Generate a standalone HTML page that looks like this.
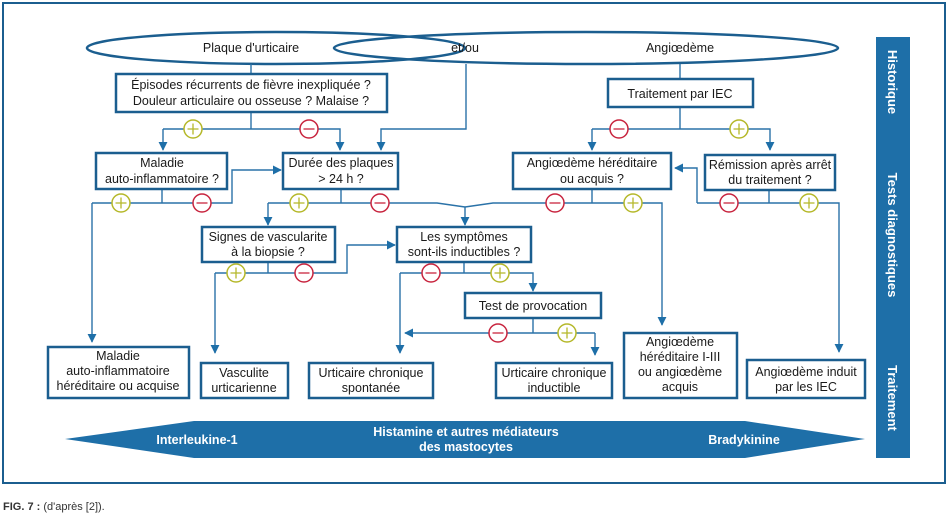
<!DOCTYPE html>
<html><head><meta charset="utf-8"><style>
body{margin:0;background:#fff;}
svg{display:block;font-family:"Liberation Sans",sans-serif;}
.b{fill:#fff;stroke:#1b5e8f;stroke-width:2.5}
.l{fill:none;stroke:#2a72a8;stroke-width:1.4}
.t{font-size:12.5px;fill:#1a1a1a;text-anchor:middle}
.p{fill:#fff;stroke:#b5b82a;stroke-width:1.5}
.m{fill:#fff;stroke:#c8253f;stroke-width:1.5}
.ps{stroke:#b5b82a;stroke-width:1.3}
.ms{stroke:#c8253f;stroke-width:1.3}
.w{font-size:12.5px;font-weight:bold;fill:#fff;text-anchor:middle}
.s{font-size:13px;font-weight:bold;fill:#fff;text-anchor:middle}
</style></head><body>
<svg width="949" height="516" viewBox="0 0 949 516">
<defs>
<marker id="a" viewBox="0 0 10 10" refX="9" refY="5" markerWidth="9" markerHeight="9" markerUnits="userSpaceOnUse" orient="auto"><path d="M0,0L10,5L0,10z" fill="#1e6fa8"/></marker>
<g id="pl"><circle r="9" class="p"/><path d="M-5.5,0H5.5M0,-5.5V5.5" class="ps"/></g>
<g id="mi"><circle r="9" class="m"/><path d="M-5.5,0H5.5" class="ms"/></g>
</defs>
<rect x="3" y="3" width="942" height="480" fill="none" stroke="#1b5e8f" stroke-width="2"/>
<rect x="876" y="37" width="34" height="421" fill="#1e6fa8"/>
<text class="s" transform="translate(888,82) rotate(90)">Historique</text>
<text class="s" transform="translate(888,235) rotate(90)">Tests diagnostiques</text>
<text class="s" transform="translate(888,398) rotate(90)">Traitement</text>

<ellipse cx="276" cy="48" rx="189" ry="16" fill="none" stroke="#1b5e8f" stroke-width="2.5"/>
<ellipse cx="586" cy="48" rx="252" ry="16" fill="none" stroke="#1b5e8f" stroke-width="2.5"/>
<text class="t" x="251" y="52">Plaque d'urticaire</text>
<text class="t" x="465" y="52">et/ou</text>
<text class="t" x="680" y="52">Angiœdème</text>

<g class="l">
<path d="M251,64V74"/>
<path d="M251,112V129"/>
<path d="M163,129H340V150" marker-end="url(#a)"/>
<path d="M163,129V150" marker-end="url(#a)"/>
<path d="M466,64V129H381V150" marker-end="url(#a)"/>
<path d="M680,64V79"/>
<path d="M680,107V129"/>
<path d="M592,129H770V150" marker-end="url(#a)"/>
<path d="M592,129V150" marker-end="url(#a)"/>
<path d="M162,189V203"/>
<path d="M92,203H232V170H281" marker-end="url(#a)"/>
<path d="M92,203V342" marker-end="url(#a)"/>
<path d="M341,189V203"/>
<path d="M268,203V225" marker-end="url(#a)"/>
<path d="M268,203H437L465,207"/>
<path d="M465,207V225" marker-end="url(#a)"/>
<path d="M465,207L493,203H662V325" marker-end="url(#a)"/>
<path d="M592,189V203"/>
<path d="M769,190V203"/>
<path d="M697,203H839V352" marker-end="url(#a)"/>
<path d="M697,203V168H675" marker-end="url(#a)"/>
<path d="M268,262V273"/>
<path d="M215,273H347V245H395" marker-end="url(#a)"/>
<path d="M215,273V353" marker-end="url(#a)"/>
<path d="M464,262V273"/>
<path d="M400,273H533V291" marker-end="url(#a)"/>
<path d="M400,273V353" marker-end="url(#a)"/>
<path d="M533,318V333"/>
<path d="M595,333H405" marker-end="url(#a)"/>
<path d="M595,333V355" marker-end="url(#a)"/>
</g>

<rect class="b" x="116" y="74" width="271" height="38"/>
<text class="t" x="251" y="89">Épisodes récurrents de fièvre inexpliquée ?</text>
<text class="t" x="251" y="105">Douleur articulaire ou osseuse ? Malaise ?</text>
<rect class="b" x="608" y="79" width="145" height="28"/>
<text class="t" x="680" y="98">Traitement par IEC</text>
<rect class="b" x="96" y="153" width="131" height="36"/>
<text class="t" x="162" y="167">Maladie</text><text class="t" x="162" y="183">auto-inflammatoire ?</text>
<rect class="b" x="283" y="153" width="115" height="36"/>
<text class="t" x="341" y="167">Durée des plaques</text><text class="t" x="341" y="183">&gt; 24 h ?</text>
<rect class="b" x="513" y="153" width="158" height="36"/>
<text class="t" x="592" y="167">Angiœdème héréditaire</text><text class="t" x="592" y="183">ou acquis ?</text>
<rect class="b" x="705" y="155" width="130" height="35"/>
<text class="t" x="770" y="169">Rémission après arrêt</text><text class="t" x="770" y="184">du traitement ?</text>
<rect class="b" x="202" y="227" width="133" height="35"/>
<text class="t" x="268" y="241">Signes de vascularite</text><text class="t" x="268" y="256">à la biopsie ?</text>
<rect class="b" x="397" y="227" width="134" height="35"/>
<text class="t" x="464" y="241">Les symptômes</text><text class="t" x="464" y="256">sont-ils inductibles ?</text>
<rect class="b" x="465" y="293" width="136" height="25"/>
<text class="t" x="533" y="310">Test de provocation</text>

<rect class="b" x="48" y="347" width="141" height="51"/>
<text class="t" x="118" y="360">Maladie</text><text class="t" x="118" y="375">auto-inflammatoire</text><text class="t" x="118" y="390">héréditaire ou acquise</text>
<rect class="b" x="201" y="363" width="87" height="35"/>
<text class="t" x="244" y="377">Vasculite</text><text class="t" x="244" y="392">urticarienne</text>
<rect class="b" x="309" y="363" width="124" height="35"/>
<text class="t" x="371" y="377">Urticaire chronique</text><text class="t" x="371" y="392">spontanée</text>
<rect class="b" x="496" y="363" width="116" height="35"/>
<text class="t" x="554" y="377">Urticaire chronique</text><text class="t" x="554" y="392">inductible</text>
<rect class="b" x="624" y="333" width="113" height="65"/>
<text class="t" x="680" y="346">Angiœdème</text><text class="t" x="680" y="361">héréditaire I-III</text><text class="t" x="680" y="376">ou angiœdème</text><text class="t" x="680" y="391">acquis</text>
<rect class="b" x="747" y="360" width="118" height="38"/>
<text class="t" x="806" y="376">Angiœdème induit</text><text class="t" x="806" y="391">par les IEC</text>

<use href="#pl" x="193" y="129"/><use href="#mi" x="309" y="129"/>
<use href="#mi" x="619" y="129"/><use href="#pl" x="739" y="129"/>
<use href="#pl" x="121" y="203"/><use href="#mi" x="202" y="203"/>
<use href="#pl" x="299" y="203"/><use href="#mi" x="380" y="203"/>
<use href="#mi" x="555" y="203"/><use href="#pl" x="633" y="203"/>
<use href="#mi" x="729" y="203"/><use href="#pl" x="809" y="203"/>
<use href="#pl" x="236" y="273"/><use href="#mi" x="304" y="273"/>
<use href="#mi" x="431" y="273"/><use href="#pl" x="500" y="273"/>
<use href="#mi" x="498" y="333"/><use href="#pl" x="567" y="333"/>

<path d="M65,439L194,421H745L865,439L745,458H194Z" fill="#1e6fa8"/>
<text class="w" x="197" y="444">Interleukine-1</text>
<text class="w" x="466" y="436">Histamine et autres médiateurs</text>
<text class="w" x="466" y="451">des mastocytes</text>
<text class="w" x="744" y="444">Bradykinine</text>

<text x="3" y="510" style="font-size:11px;fill:#333"><tspan font-weight="bold" fill="#333">FIG. 7 :</tspan> (d'après [2]).</text>
</svg>
</body></html>
